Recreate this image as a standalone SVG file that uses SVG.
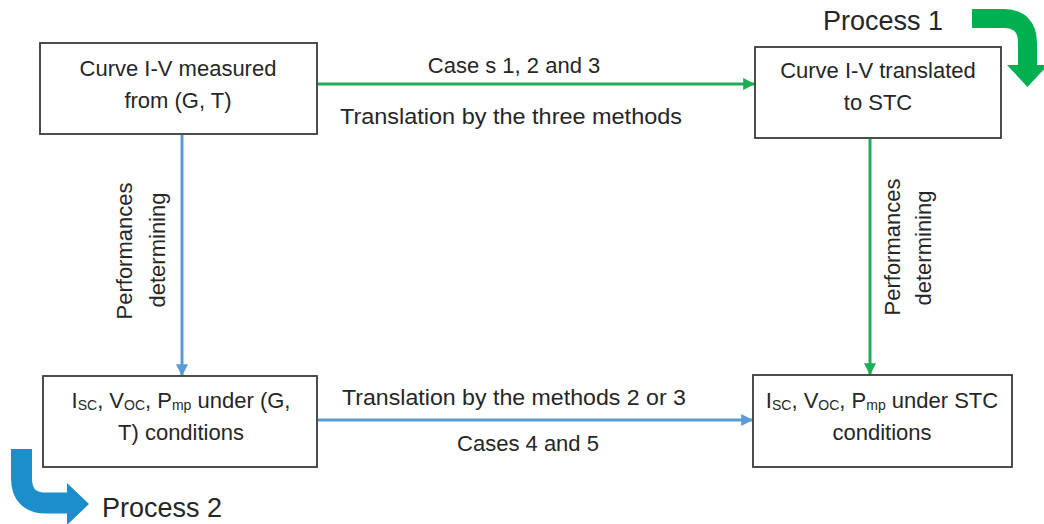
<svg xmlns="http://www.w3.org/2000/svg" width="1044" height="524" viewBox="0 0 1044 524">
<defs>
<style>
.box{fill:#fff;stroke:#3a3a3a;stroke-width:1.8}
.t{font-family:"Liberation Sans",Arial,sans-serif;font-size:22px;fill:#262626;text-anchor:middle}
.big{font-family:"Liberation Sans",Arial,sans-serif;font-size:27px;fill:#262626}
.g{stroke:#1fae55;stroke-width:3;fill:none}
.b{stroke:#5b9bd5;stroke-width:3;fill:none}
.sub{font-size:14px}
</style>
<marker id="ag" viewBox="0 0 10 10" refX="9" refY="5" markerWidth="4" markerHeight="4" orient="auto" markerUnits="strokeWidth"><path d="M0,0 L10,5 L0,10 z" fill="#1fae55"/></marker>
<marker id="ab" viewBox="0 0 10 10" refX="9" refY="5" markerWidth="4" markerHeight="4" orient="auto" markerUnits="strokeWidth"><path d="M0,0 L10,5 L0,10 z" fill="#5b9bd5"/></marker>
</defs>
<rect width="1044" height="524" fill="#fff"/>
<g id="connectors">
<line class="g" x1="318" y1="84" x2="754" y2="84" marker-end="url(#ag)"/>
<line class="b" x1="182" y1="135" x2="182" y2="375" marker-end="url(#ab)"/>
<line class="g" x1="870" y1="139" x2="870" y2="374" marker-end="url(#ag)"/>
<line class="b" x1="318" y1="420" x2="752" y2="420" marker-end="url(#ab)"/>
<text class="t" x="514" y="73">Case s 1, 2 and 3</text>
<text class="t" x="511" y="124" textLength="342" lengthAdjust="spacingAndGlyphs">Translation by the three methods</text>
<text class="t" x="514" y="405" textLength="344" lengthAdjust="spacingAndGlyphs">Translation by the methods 2 or 3</text>
<text class="t" x="528" y="451">Cases 4 and 5</text>
<text class="t" transform="translate(132,251) rotate(-90)">Performances</text>
<text class="t" transform="translate(165,250) rotate(-90)">determining</text>
<text class="t" transform="translate(900,247) rotate(-90)">Performances</text>
<text class="t" transform="translate(931,248) rotate(-90)">determining</text>
</g>
<g id="process1">
<text class="big" x="823" y="30">Process 1</text>
<path d="M972,18.5 H1003 Q1027.5,18.5 1027.5,43 V66" fill="none" stroke="#00b050" stroke-width="19"/>
<polygon points="1007,65 1048,65 1027.5,87" fill="#00b050"/>
</g>
<g id="process2">
<text class="big" x="102" y="517">Process 2</text>
<path d="M21.5,449 V478 Q21.5,503 46,503 H68" fill="none" stroke="#1b8ecb" stroke-width="21"/>
<polygon points="67,483 67,525 89,504" fill="#1b8ecb"/>
</g>
<g id="n1">
<rect class="box" x="40" y="43" width="277" height="91"/>
<text class="t" x="178" y="76">Curve I-V measured</text>
<text class="t" x="178" y="108">from (G, T)</text>
</g>
<g id="n2">
<rect class="box" x="755" y="47" width="246" height="91"/>
<text class="t" x="878" y="78">Curve I-V translated</text>
<text class="t" x="878" y="110">to STC</text>
</g>
<g id="n3">
<rect class="box" x="43" y="376" width="274" height="91"/>
<text class="t" x="181" y="408">I<tspan class="sub" dy="2">SC</tspan><tspan dy="-2">, V</tspan><tspan class="sub" dy="2">OC</tspan><tspan dy="-2">, P</tspan><tspan class="sub" dy="2">mp</tspan><tspan dy="-2"> under (G,</tspan></text>
<text class="t" x="181" y="440">T) conditions</text>
</g>
<g id="n4">
<rect class="box" x="753" y="375" width="259" height="92"/>
<text class="t" x="882" y="408">I<tspan class="sub" dy="2">SC</tspan><tspan dy="-2">, V</tspan><tspan class="sub" dy="2">OC</tspan><tspan dy="-2">, P</tspan><tspan class="sub" dy="2">mp</tspan><tspan dy="-2"> under STC</tspan></text>
<text class="t" x="882" y="440">conditions</text>
</g>
</svg>
